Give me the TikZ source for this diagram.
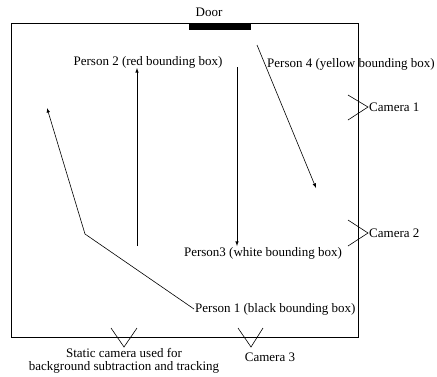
\documentclass[tikz,border=0pt]{standalone}
\usepackage{fontspec}
\setmainfont{Liberation Serif}
\usetikzlibrary{arrows,positioning}

\tikzset{
  lbl/.style={font=\fontsize{13}{13}\selectfont, inner sep=1pt},
  walk/.style={->, >=latex, line width=0.6pt},
  cam/.style={line width=0.6pt},
}

\begin{document}
\begin{tikzpicture}[x=1pt,y=-1pt]
    \useasboundingbox (0,0) rectangle (437,376);
%   room and door
    \draw[line width=0.8pt] (11,23) rectangle (358,337);
    \fill (189,23) rectangle (251,30);
    \node[lbl] (door) at (209,12) {Door};

%   person 1
    \node[lbl,anchor=west] (p1) at (194,309) {Person 1 (black bounding box)};
    \coordinate (p1m) at (85,234);
    \coordinate (p1e) at (47,108);
    \draw[walk] (p1.west) -- (p1m) -- (p1e);
%   person 2
    \node[lbl] (p2) at (148,62) {Person 2 (red bounding box)};
    \coordinate (p2s) at (137,246);
    \coordinate (p2e) at (137,68);
    \draw[walk] (p2s) -- (p2e);
%   person 3
    \node[lbl] (p3) at (263,253) {Person3 (white bounding box)};
    \coordinate (p3s) at (237,67);
    \coordinate (p3e) at (237,246);
    \draw[walk] (p3s) -- (p3e);
%   person 4
    \node[lbl,anchor=west] (p4) at (266,64) {Person 4 (yellow bounding box)};
    \coordinate (p4s) at (257,45);
    \coordinate (p4e) at (316,188);
    \draw[walk] (p4s) -- (p4e);

%   cameras on the right wall
    \coordinate (c1) at (368,107);
    \node[lbl,anchor=west] (cam1) at (c1) {Camera 1};
    \draw[cam] (348,95) -- (c1) -- (348,120);
    \coordinate (c2) at (368,233);
    \node[lbl,anchor=west] (cam2) at (c2) {Camera 2};
    \draw[cam] (348,220) -- (c2) -- (348,246);
%   cameras on the bottom wall
    \coordinate (c3) at (251,347);
    \node[lbl] (cam3) at (270,357) {Camera 3};
    \draw[cam] (238,328) -- (c3) -- (263,328);
    \coordinate (c0) at (124,347);
    \node[lbl,align=center,below=0pt of c0] (cam0) {Static camera used for\\background subtraction and tracking};
    \draw[cam] (111,328) -- (c0) -- (137,328);
\end{tikzpicture}
\end{document}
